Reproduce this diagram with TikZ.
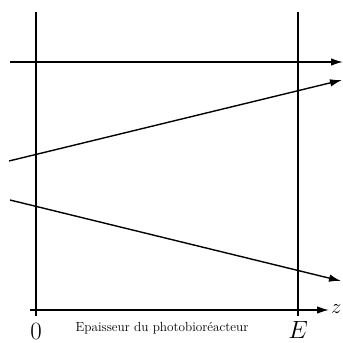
\documentclass[tikz,border=0pt]{standalone}
\usetikzlibrary{arrows.meta}
\begin{document}
\begin{tikzpicture}[x=1pt,y=-1pt,
  ln/.style={line width=1.4pt,black},
  arr/.style={ln,-{Latex[length=12pt,width=7.5pt]}},
  lbl/.style={inner sep=0pt,font=\fontsize{27}{30}\selectfont},
  zlbl/.style={inner sep=0pt,font=\fontsize{22}{24}\selectfont},
  note/.style={inner sep=0pt,font=\fontsize{13.2}{15}\selectfont}]
\useasboundingbox (0,0) rectangle (343,343);
% verticals
\coordinate (v0t) at (36,12); \coordinate (v0b) at (36,316);
\coordinate (vEt) at (298,12); \coordinate (vEb) at (298,316);
\draw[ln] (v0t) -- (v0b);
\draw[ln] (vEt) -- (vEb);
% rays
\coordinate (a1) at (10,62); \coordinate (b1) at (343,62);
\coordinate (a2) at (9,161); \coordinate (b2) at (342,80);
\coordinate (a3) at (10,200); \coordinate (b3) at (341,281);
\draw[arr] (a1) -- (b1);
\draw[arr] (a2) -- (b2);
\draw[arr] (a3) -- (b3);
% z axis
\coordinate (z0) at (30,310); \coordinate (z1) at (329,310);
\draw[arr] (z0) -- (z1);
\node[zlbl,anchor=west] (zl) at (331,309) {$z$};
\node[lbl] (l0) at (36,331) {$0$};
\node[lbl] (lE) at (298,330) {$E$};
\node[note] (ep) at (162,328) {Epaisseur du photobioréacteur};
\end{tikzpicture}
\end{document}
